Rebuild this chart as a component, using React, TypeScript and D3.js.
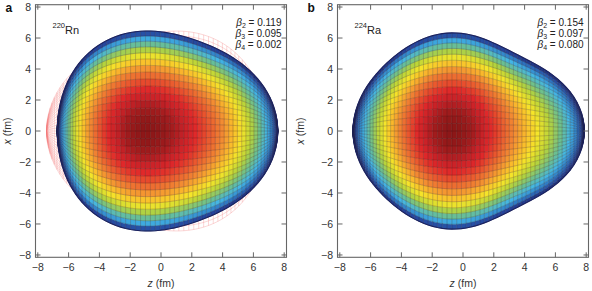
import React from "react";
import * as d3 from "d3";

// values
const panelLetters = ["a", "b"];
const massNumbers = ["220", "224"];
const elements = ["Rn", "Ra"];
const beta2 = [0.119, 0.154];
const beta3 = [0.095, 0.097];
const beta4 = [0.002, 0.08];
const betaText = [
  ["0.119", "0.095", "0.002"],
  ["0.154", "0.097", "0.080"],
];
const radii = [6.65, 6.45]; // fm, estimated from outline
const zOffsets = [-0.05, -0.1];
const mirrorOffsets = [0.2, null]; // red wireframe of the mirrored shape (panel a only)
const axisTicks = [-8, -6, -4, -2, 0, 2, 4, 6, 8];
const yTitleX = [11, 304];

// colour by (height / max height)^2
const colorStops = [0, 0.035, 0.09, 0.16, 0.25, 0.35, 0.45, 0.54, 0.63, 0.73, 0.83, 0.9, 0.95, 1];
const colorValues = [
  "#1b2566", "#25439b", "#2f7cc6", "#43b6e6", "#6cbf8f", "#b8d43a", "#f5e52a",
  "#fabb2c", "#f28a33", "#ea5a2f", "#e0282a", "#c52127", "#a41c1e", "#8c1717",
];

const W = 592;
const H = 291;
const domain: [number, number] = [-8.15, 8.15];
const xRanges: [number, number][] = [
  [35.5, 286.5],
  [337.5, 588.5],
];
const yRange: [number, number] = [257.3, 4.7];
const FONT = "'Liberation Sans', Arial, Helvetica, sans-serif";

const NT = 64; // columns (polar angle)
const NR = 30; // rows (azimuth)
const K = 0.9;

function legendre(l: number, c: number) {
  if (l === 2) return (3 * c * c - 1) / 2;
  if (l === 3) return (5 * c * c * c - 3 * c) / 2;
  return (35 * c ** 4 - 30 * c * c + 3) / 8;
}
function Ylm(l: number, c: number) {
  return Math.sqrt((2 * l + 1) / (4 * Math.PI)) * legendre(l, c);
}

function buildShape(b2: number, b3: number, b4: number, r0: number, z0: number) {
  const thetas = d3.range(NT + 1).map((i) => (Math.PI * i) / NT);
  const pts = thetas.map((th) => {
    const c = Math.cos(th);
    const r = r0 * (1 + b2 * Ylm(2, c) + b3 * Ylm(3, c) + b4 * Ylm(4, c));
    return { z: z0 + r * c, rho: r * Math.sin(th) };
  });
  const us = d3.range(NR + 1).map((j) => {
    const s = -1 + (2 * j) / NR;
    return Math.sin(K * s) / Math.sin(K);
  });
  return { pts, us };
}

function Panel({ idx }: { idx: number }) {
  const sx = d3.scaleLinear().domain(domain).range(xRanges[idx]);
  const sy = d3.scaleLinear().domain(domain).range(yRange);
  const color = d3
    .scaleLinear<string>()
    .domain(colorStops)
    .range(colorValues)
    .interpolate(d3.interpolateRgb)
    .clamp(true);

  const { pts, us } = buildShape(beta2[idx], beta3[idx], beta4[idx], radii[idx], zOffsets[idx]);
  const rhoMax = d3.max(pts, (p) => p.rho)!;

  const cells: { d: string; fill: string }[] = [];
  for (let i = 0; i < NT; i++) {
    const a = pts[i];
    const b = pts[i + 1];
    for (let j = 0; j < NR; j++) {
      const u0 = us[j];
      const u1 = us[j + 1];
      const d = `M${sx(a.z)},${sy(a.rho * u0)}L${sx(b.z)},${sy(b.rho * u0)}L${sx(b.z)},${sy(
        b.rho * u1
      )}L${sx(a.z)},${sy(a.rho * u1)}Z`;
      const rm = (a.rho + b.rho) / 2;
      const um = (u0 + u1) / 2;
      const h = (rm * Math.sqrt(1 - um * um)) / rhoMax;
      cells.push({ d, fill: color(h * h) });
    }
  }

  const meshPaths = (shape: { pts: { z: number; rho: number }[]; us: number[] }) => {
    const line = d3
      .line<[number, number]>()
      .x((d) => sx(d[0]))
      .y((d) => sy(d[1]));
    const cols = shape.pts.map((p) => line(shape.us.map((u) => [p.z, p.rho * u]))!);
    const rows = shape.us.map((u) => line(shape.pts.map((p) => [p.z, p.rho * u]))!);
    return { cols, rows };
  };

  const grid = meshPaths({ pts, us });
  const edge = d3
    .line<{ z: number; rho: number }>()
    .x((p) => sx(p.z))
    .y((p) => sy(p.rho));
  const outline =
    edge(pts)! +
    edge(pts.map((p) => ({ z: p.z, rho: -p.rho })).reverse())!.replace("M", "L") +
    "Z";

  let mirror: { cols: string[]; rows: string[] } | null = null;
  if (mirrorOffsets[idx] !== null) {
    const m = buildShape(beta2[idx], -beta3[idx], beta4[idx], radii[idx], mirrorOffsets[idx]!);
    mirror = meshPaths(m);
  }

  const [x0, x1] = xRanges[idx];
  const [yb, yt] = yRange;
  const tickLen = 5;
  const fmt = (t: number) => (t < 0 ? "\u2212" + Math.abs(t) : String(t));

  return (
    <g fontFamily={FONT}>
      {/* red wireframe */}
      {mirror && (
        <g fill="none" stroke="#f05a5a" strokeWidth={0.3} opacity={0.8}>
          {mirror.cols.map((d, i) => (
            <path key={"mc" + i} d={d} />
          ))}
          {mirror.rows.map((d, i) => (
            <path key={"mr" + i} d={d} />
          ))}
        </g>
      )}
      {/* coloured surface */}
      <g>
        {cells.map((c, i) => (
          <path key={i} d={c.d} fill={c.fill} stroke={c.fill} strokeWidth={0.4} />
        ))}
      </g>
      <g fill="none" stroke="#2a1a1a" strokeWidth={0.45} opacity={0.5}>
        {grid.cols.map((d, i) => (
          <path key={"c" + i} d={d} />
        ))}
        {grid.rows.map((d, i) => (
          <path key={"r" + i} d={d} />
        ))}
      </g>
      <path d={outline} fill="none" stroke="#1b2260" strokeWidth={1.1} />

      {/* frame and ticks */}
      <rect x={x0} y={yt} width={x1 - x0} height={yb - yt} fill="none" stroke="#666" strokeWidth={1.1} />
      {axisTicks.map((t) => (
        <g key={"t" + t} stroke="#666" strokeWidth={1}>
          <line x1={sx(t)} x2={sx(t)} y1={yb} y2={yb - tickLen} />
          <line x1={sx(t)} x2={sx(t)} y1={yt} y2={yt + tickLen} />
          <line x1={x0} x2={x0 + tickLen} y1={sy(t)} y2={sy(t)} />
          <line x1={x1} x2={x1 - tickLen} y1={sy(t)} y2={sy(t)} />
        </g>
      ))}
      {axisTicks.map((t) => (
        <text key={"xl" + t} x={sx(t)} y={271} fontSize={10.5} textAnchor="middle" fill="#333">
          {fmt(t)}
        </text>
      ))}
      {axisTicks.map((t) => (
        <text key={"yl" + t} x={x0 - 4.5} y={sy(t) + 3.8} fontSize={10.5} textAnchor="end" fill="#333">
          {fmt(t)}
        </text>
      ))}
      <text x={(x0 + x1) / 2} y={287} fontSize={10.5} textAnchor="middle" fill="#333">
        <tspan fontStyle="italic">z</tspan> (fm)
      </text>
      <text
        transform={`translate(${yTitleX[idx]},${sy(0)}) rotate(-90)`}
        fontSize={10.5}
        textAnchor="middle"
        fill="#333"
      >
        <tspan fontStyle="italic">x</tspan> (fm)
      </text>
      <text x={x0 - 30} y={12} fontSize={12} fontWeight="bold" fill="#111">
        {panelLetters[idx]}
      </text>

      {/* nucleus label */}
      <text x={x0 + 17} y={34} fill="#222">
        <tspan fontSize={7.5} dy={-6}>
          {massNumbers[idx]}
        </tspan>
        <tspan fontSize={11} dy={6}>
          {elements[idx]}
        </tspan>
      </text>
      {betaText[idx].map((v, k) => (
        <text key={"b" + k} x={x1 - 5} y={26 + k * 11} fontSize={10} textAnchor="end" fill="#222">
          <tspan fontStyle="italic">{"\u03b2"}</tspan>
          <tspan fontSize={7} dy={2}>
            {k + 2}
          </tspan>
          <tspan dy={-2}>{" = " + v}</tspan>
        </text>
      ))}
    </g>
  );
}

export default function App() {
  return (
    <svg
      width={W}
      height={H}
      viewBox={`0 0 ${W} ${H}`}
      style={{ position: "absolute", left: 0, top: 0, display: "block" }}
    >
      <rect width={W} height={H} fill="#fff" />
      <Panel idx={0} />
      <Panel idx={1} />
    </svg>
  );
}
